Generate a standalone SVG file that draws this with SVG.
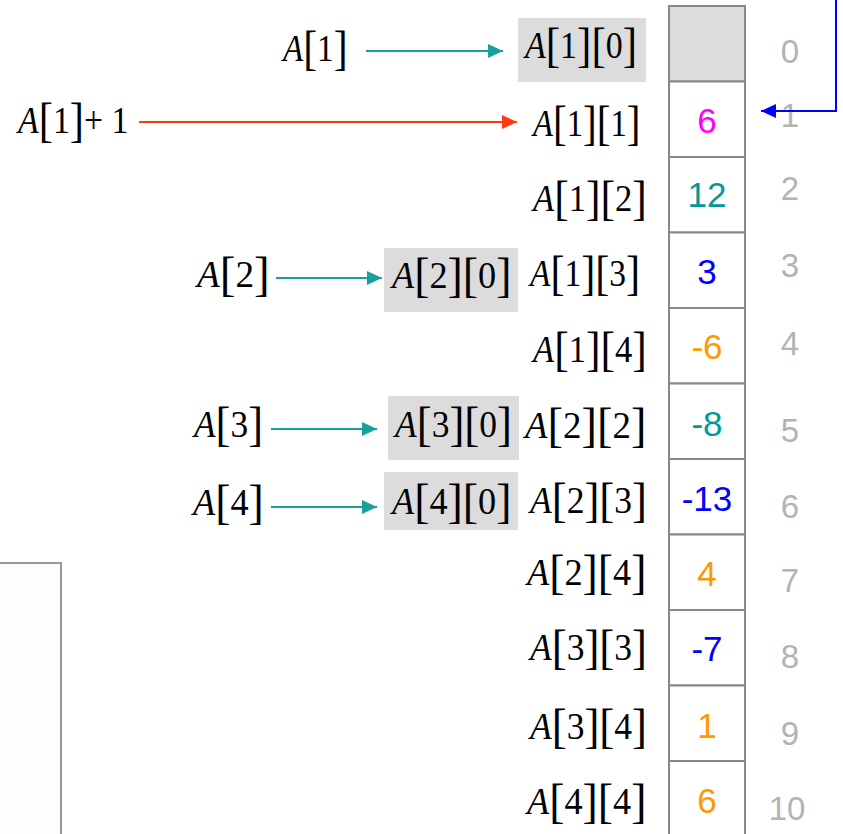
<svg xmlns="http://www.w3.org/2000/svg" width="843" height="834" viewBox="0 0 843 834">
  <style>
    .m { font-family: "Liberation Serif", "Times New Roman", serif; font-size: 38px; fill: #000; }
    .i { font-style: italic; }
    .b { font-size: 48px; }
    .cell { fill: #fff; stroke: #888; stroke-width: 2; }
    .cell0 { fill: #dcdcdc; stroke: #888; stroke-width: 2; }
    .hl { fill: #dcdcdc; }
    .val { font-family: "Liberation Sans", Arial, sans-serif; font-size: 35px; text-anchor: middle; }
    .idx { font-family: "Liberation Sans", Arial, sans-serif; font-size: 33px; text-anchor: middle; fill: #b3b3b3; }
    .teal { stroke: #18a09c; stroke-width: 2; fill: none; }
    .red { stroke: #ff3a10; stroke-width: 2; fill: none; }
    .blue { stroke: #0000ff; stroke-width: 2; fill: none; }
  </style>
  <defs>
    <marker id="ahTeal" markerUnits="userSpaceOnUse" markerWidth="16" markerHeight="14" refX="15" refY="7" orient="auto">
      <path d="M0,0 L15,7 L0,14 Z" fill="#18a09c"/>
    </marker>
    <marker id="ahRed" markerUnits="userSpaceOnUse" markerWidth="16" markerHeight="14" refX="15" refY="7" orient="auto">
      <path d="M0,0 L15,7 L0,14 Z" fill="#ff3a10"/>
    </marker>
    <marker id="ahBlue" markerUnits="userSpaceOnUse" markerWidth="16" markerHeight="14" refX="15" refY="7" orient="auto">
      <path d="M0,0 L15,7 L0,14 Z" fill="#0000ff"/>
    </marker>
  </defs>

  <!-- panel at lower left -->
  <rect id="panel" x="-10" y="563" width="71" height="290" fill="#fdfdfd" stroke="#999" stroke-width="2"/>

  <!-- memory column -->
  <g id="memory">
    <rect class="cell0" x="669" y="6" width="76" height="75.5"/>
    <rect class="cell" x="669" y="81.5" width="76" height="75.5"/>
    <rect class="cell" x="669" y="157" width="76" height="75.5"/>
    <rect class="cell" x="669" y="232.5" width="76" height="75.5"/>
    <rect class="cell" x="669" y="308" width="76" height="75.5"/>
    <rect class="cell" x="669" y="383.5" width="76" height="75.5"/>
    <rect class="cell" x="669" y="459" width="76" height="75.5"/>
    <rect class="cell" x="669" y="534.5" width="76" height="75.5"/>
    <rect class="cell" x="669" y="610" width="76" height="75.5"/>
    <rect class="cell" x="669" y="685.5" width="76" height="75.5"/>
    <rect class="cell" x="669" y="761" width="76" height="80"/>
  </g>

  <g id="values">
    <text class="val" x="707" y="133" fill="#ff00ff">6</text>
    <text class="val" x="707" y="207" fill="#009999">12</text>
    <text class="val" x="707" y="284" fill="#0000ff">3</text>
    <text class="val" x="707" y="359" fill="#ff9900">-6</text>
    <text class="val" x="707" y="436" fill="#009999">-8</text>
    <text class="val" x="707" y="511" fill="#0000ff">-13</text>
    <text class="val" x="707" y="586" fill="#ff9900">4</text>
    <text class="val" x="707" y="661" fill="#0000ff">-7</text>
    <text class="val" x="707" y="738" fill="#ff9900">1</text>
    <text class="val" x="707" y="813" fill="#ff9900">6</text>
  </g>

  <g id="indices">
    <text class="idx" x="790" y="63">0</text>
    <text class="idx" x="790" y="127">1</text>
    <text class="idx" x="790" y="200">2</text>
    <text class="idx" x="790" y="277">3</text>
    <text class="idx" x="790" y="355">4</text>
    <text class="idx" x="790" y="442">5</text>
    <text class="idx" x="790" y="518">6</text>
    <text class="idx" x="790" y="592">7</text>
    <text class="idx" x="790" y="668">8</text>
    <text class="idx" x="790" y="745">9</text>
    <text class="idx" x="787" y="820">10</text>
  </g>

  <!-- highlighted row-start elements -->
  <g id="highlights">
    <rect class="hl" x="518" y="18" width="128" height="64"/>
    <rect class="hl" x="384" y="248" width="134" height="64"/>
    <rect class="hl" x="388" y="396" width="131" height="64"/>
    <rect class="hl" x="384" y="472" width="134" height="58"/>
  </g>

  <!-- element names along the column (narrowed horizontally to the math-font width) -->
  <g id="elements">
    <text id="e10" class="m" transform="translate(525,58) scale(0.895,1)"><tspan class="i">A</tspan><tspan class="b" dy="3">[</tspan><tspan dy="-3">1</tspan><tspan class="b" dy="3">][</tspan><tspan dy="-3">0</tspan><tspan class="b" dy="3">]</tspan></text>
    <text id="e11" class="m" transform="translate(533,136) scale(0.86,1)"><tspan class="i">A</tspan><tspan class="b" dy="3">[</tspan><tspan dy="-3">1</tspan><tspan class="b" dy="3">][</tspan><tspan dy="-3">1</tspan><tspan class="b" dy="3">]</tspan></text>
    <text id="e12" class="m" transform="translate(533,211) scale(0.91,1)"><tspan class="i">A</tspan><tspan class="b" dy="3">[</tspan><tspan dy="-3">1</tspan><tspan class="b" dy="3">][</tspan><tspan dy="-3">2</tspan><tspan class="b" dy="3">]</tspan></text>
    <text id="e13" class="m" transform="translate(530,286) scale(0.88,1)"><tspan class="i">A</tspan><tspan class="b" dy="3">[</tspan><tspan dy="-3">1</tspan><tspan class="b" dy="3">][</tspan><tspan dy="-3">3</tspan><tspan class="b" dy="3">]</tspan></text>
    <text id="e14" class="m" transform="translate(533,362) scale(0.91,1)"><tspan class="i">A</tspan><tspan class="b" dy="3">[</tspan><tspan dy="-3">1</tspan><tspan class="b" dy="3">][</tspan><tspan dy="-3">4</tspan><tspan class="b" dy="3">]</tspan></text>
    <text id="e22" class="m" transform="translate(525,438) scale(0.97,1)"><tspan class="i">A</tspan><tspan class="b" dy="3">[</tspan><tspan dy="-3">2</tspan><tspan class="b" dy="3">][</tspan><tspan dy="-3">2</tspan><tspan class="b" dy="3">]</tspan></text>
    <text id="e23" class="m" transform="translate(530,513) scale(0.935,1)"><tspan class="i">A</tspan><tspan class="b" dy="3">[</tspan><tspan dy="-3">2</tspan><tspan class="b" dy="3">][</tspan><tspan dy="-3">3</tspan><tspan class="b" dy="3">]</tspan></text>
    <text id="e24" class="m" transform="translate(527,585) scale(0.955,1)"><tspan class="i">A</tspan><tspan class="b" dy="3">[</tspan><tspan dy="-3">2</tspan><tspan class="b" dy="3">][</tspan><tspan dy="-3">4</tspan><tspan class="b" dy="3">]</tspan></text>
    <text id="e33" class="m" transform="translate(530,660) scale(0.935,1)"><tspan class="i">A</tspan><tspan class="b" dy="3">[</tspan><tspan dy="-3">3</tspan><tspan class="b" dy="3">][</tspan><tspan dy="-3">3</tspan><tspan class="b" dy="3">]</tspan></text>
    <text id="e34" class="m" transform="translate(530,739) scale(0.935,1)"><tspan class="i">A</tspan><tspan class="b" dy="3">[</tspan><tspan dy="-3">3</tspan><tspan class="b" dy="3">][</tspan><tspan dy="-3">4</tspan><tspan class="b" dy="3">]</tspan></text>
    <text id="e44" class="m" transform="translate(527,814) scale(0.955,1)"><tspan class="i">A</tspan><tspan class="b" dy="3">[</tspan><tspan dy="-3">4</tspan><tspan class="b" dy="3">][</tspan><tspan dy="-3">4</tspan><tspan class="b" dy="3">]</tspan></text>

    <text id="e20" class="m" transform="translate(392,288) scale(0.955,1)"><tspan class="i">A</tspan><tspan class="b" dy="3">[</tspan><tspan dy="-3">2</tspan><tspan class="b" dy="3">][</tspan><tspan dy="-3">0</tspan><tspan class="b" dy="3">]</tspan></text>
    <text id="e30" class="m" transform="translate(395,437) scale(0.935,1)"><tspan class="i">A</tspan><tspan class="b" dy="3">[</tspan><tspan dy="-3">3</tspan><tspan class="b" dy="3">][</tspan><tspan dy="-3">0</tspan><tspan class="b" dy="3">]</tspan></text>
    <text id="e40" class="m" transform="translate(392,514) scale(0.955,1)"><tspan class="i">A</tspan><tspan class="b" dy="3">[</tspan><tspan dy="-3">4</tspan><tspan class="b" dy="3">][</tspan><tspan dy="-3">0</tspan><tspan class="b" dy="3">]</tspan></text>
  </g>

  <!-- row pointers -->
  <g id="pointers">
    <text id="p1" class="m" transform="translate(283,61) scale(0.87,1)"><tspan class="i">A</tspan><tspan class="b" dy="3">[</tspan><tspan dy="-3">1</tspan><tspan class="b" dy="3">]</tspan></text>
    <text id="p1plus" class="m" transform="translate(18,133) scale(0.89,1)"><tspan class="i">A</tspan><tspan class="b" dy="3">[</tspan><tspan dy="-3">1</tspan><tspan class="b" dy="3">]</tspan><tspan dy="-3">+ 1</tspan></text>
    <text id="p2" class="m" transform="translate(197,287) scale(0.98,1)"><tspan class="i">A</tspan><tspan class="b" dy="3">[</tspan><tspan dy="-3">2</tspan><tspan class="b" dy="3">]</tspan></text>
    <text id="p3" class="m" transform="translate(194,437) scale(0.93,1)"><tspan class="i">A</tspan><tspan class="b" dy="3">[</tspan><tspan dy="-3">3</tspan><tspan class="b" dy="3">]</tspan></text>
    <text id="p4" class="m" transform="translate(193,515) scale(0.955,1)"><tspan class="i">A</tspan><tspan class="b" dy="3">[</tspan><tspan dy="-3">4</tspan><tspan class="b" dy="3">]</tspan></text>
  </g>

  <g id="connectors">
    <line class="teal" x1="366" y1="51" x2="503" y2="51" marker-end="url(#ahTeal)"/>
    <line class="red" x1="139" y1="122" x2="517" y2="122" marker-end="url(#ahRed)"/>
    <line class="teal" x1="276" y1="278" x2="382" y2="278" marker-end="url(#ahTeal)"/>
    <line class="teal" x1="271" y1="429" x2="377" y2="429" marker-end="url(#ahTeal)"/>
    <line class="teal" x1="271" y1="507" x2="377" y2="507" marker-end="url(#ahTeal)"/>
    <polyline class="blue" points="836,-2 836,111 761,111" marker-end="url(#ahBlue)"/>
  </g>
</svg>
